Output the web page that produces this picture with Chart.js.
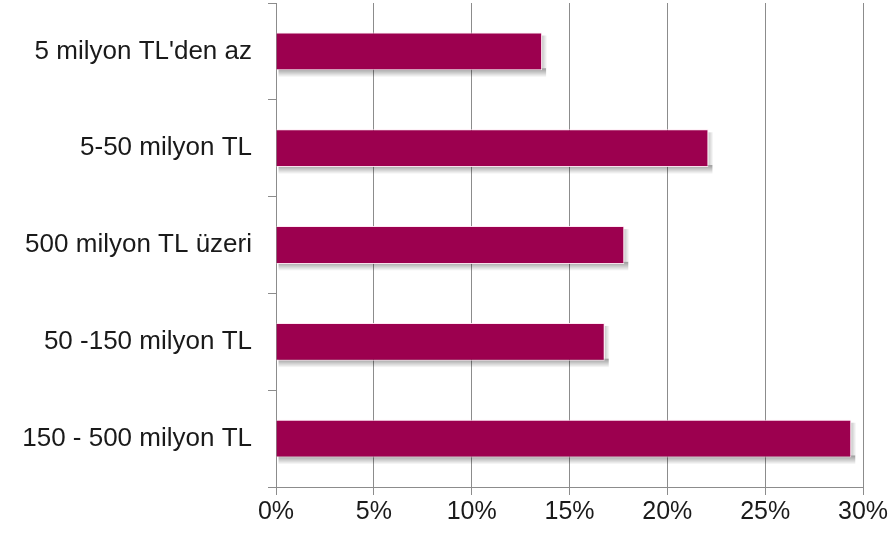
<!DOCTYPE html>
<html>
<head>
<meta charset="utf-8">
<script src="https://cdn.jsdelivr.net/npm/chart.js@4"></script>
<style>
  html, body { margin: 0; padding: 0; background: #fff; }
  #wrap { width: 894px; height: 533px; }
</style>
</head>
<body>
<div id="wrap"><canvas id="c"></canvas></div>
<script>
const categories = [
    "5 milyon TL'den az",
    "5-50 milyon TL",
    "500 milyon TL üzeri",
    "50 -150 milyon TL",
    "150 - 500 milyon TL",
];
const shares = [13.6, 22.1, 17.8, 16.8, 29.4];
const xTicks = [0, 5, 10, 15, 20, 25, 30];

// soft gray shadow under each bar, placed from the bar elements themselves
const barShadow = {
    id: "barShadow",
    beforeDatasetsDraw(chart) {
        const ctx = chart.ctx;
        const meta = chart.getDatasetMeta(0);
        ctx.save();
        meta.data.forEach((bar) => {
            const {x, y, base, height} = bar.getProps(["x", "y", "base", "height"], true);
            const bottom = y + height / 2;
            const g = ctx.createLinearGradient(0, bottom - 2, 0, bottom + 7);
            g.addColorStop(0, "rgba(0,0,0,0.40)");
            g.addColorStop(1, "rgba(0,0,0,0)");
            ctx.fillStyle = g;
            ctx.fillRect(base + 2, bottom - 2, x - base + 2, 9);
            const gr = ctx.createLinearGradient(x, 0, x + 5, 0);
            gr.addColorStop(0, "rgba(0,0,0,0.22)");
            gr.addColorStop(1, "rgba(0,0,0,0)");
            ctx.fillStyle = gr;
            ctx.fillRect(x, y - height / 2 + 3, 5, height - 5);
        });
        ctx.restore();
    },
};

const gridCol = "#8c8c8c";

new Chart(document.getElementById("c"), {
    type: "bar",
    data: {
        labels: categories,
        datasets: [{
            data: shares,
            backgroundColor: "#9c004f",
            borderColor: "rgba(255,230,242,0.9)",
            borderWidth: 1,
            barPercentage: 0.39,
            categoryPercentage: 1,
        }],
    },
    plugins: [barShadow],
    options: {
        indexAxis: "y",
        responsive: true,
        maintainAspectRatio: false,
        animation: false,
        layout: {padding: {top: 3, right: 31, bottom: 0, left: 0}},
        plugins: {legend: {display: false}, tooltip: {enabled: false}},
        scales: {
            x: {
                min: 0,
                max: 30,
                afterBuildTicks: (s) => { s.ticks = xTicks.map((v) => ({value: v})); },
                afterFit: (s) => { s.height = 46; s.paddingLeft = 0; s.paddingRight = 0; },
                grid: {color: gridCol, lineWidth: 1, tickLength: 8, drawTicks: true},
                border: {color: gridCol, width: 1},
                ticks: {
                    color: "#1a1a1a",
                    font: {family: "Liberation Sans", size: 25},
                    padding: 2,
                    callback: (v) => v + "%",
                },
            },
            y: {
                afterFit: (s) => { s.width = 276; s.paddingTop = 0; s.paddingBottom = 0; },
                grid: {color: gridCol, drawOnChartArea: false, tickLength: 8, offset: true},
                border: {color: gridCol, width: 1},
                ticks: {
                    color: "#1a1a1a",
                    font: {family: "Liberation Sans", size: 26},
                    padding: 16,
                },
            },
        },
    },
});
</script>
</body>
</html>
